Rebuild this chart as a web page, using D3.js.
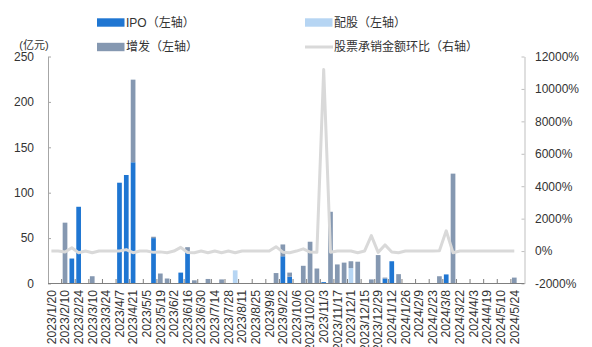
<!DOCTYPE html>
<html>
<head>
<meta charset="utf-8">
<script src="https://cdn.jsdelivr.net/npm/d3@7"></script>
<style>
  body { margin: 0; background: #fff; }
  text { font-family: "Liberation Sans", Arial, "Noto Sans CJK SC", sans-serif; fill: #333; }
</style>
</head>
<body>
<svg id="chart" width="592" height="347"></svg>
<script>
// Weekly equity underwriting, 2023/1/20 - 2024/5/31
const weeks = [
  "2023/1/20","2023/2/3","2023/2/10","2023/2/17","2023/2/24","2023/3/3","2023/3/10","2023/3/17","2023/3/24","2023/3/31",
  "2023/4/7","2023/4/14","2023/4/21","2023/4/28","2023/5/5","2023/5/12","2023/5/19","2023/5/26","2023/6/2","2023/6/9",
  "2023/6/16","2023/6/21","2023/6/30","2023/7/7","2023/7/14","2023/7/21","2023/7/28","2023/8/4","2023/8/11","2023/8/18",
  "2023/8/25","2023/9/1","2023/9/8","2023/9/15","2023/9/22","2023/9/28","2023/10/6","2023/10/13","2023/10/20","2023/10/27",
  "2023/11/3","2023/11/10","2023/11/17","2023/11/24","2023/12/1","2023/12/8","2023/12/15","2023/12/22","2023/12/29","2024/1/5",
  "2024/1/12","2024/1/19","2024/1/26","2024/2/2","2024/2/9","2024/2/16","2024/2/23","2024/3/1","2024/3/8","2024/3/15",
  "2024/3/22","2024/3/29","2024/4/3","2024/4/12","2024/4/19","2024/4/30","2024/5/10","2024/5/17","2024/5/24","2024/5/31"
];

// IPO (亿元)
const ipo = [
  0, 0, 0, 27.5, 84.5, 0, 0, 0, 0, 0,
  111, 119.5, 133.5, 0, 0, 50, 0, 0, 0, 12,
  35, 0, 0, 0, 0, 0, 0, 0, 0, 0,
  0, 0, 0, 0, 30, 7.5, 0, 0, 0, 0,
  1.5, 0, 0, 0, 0, 0, 0, 0, 0, 5.5,
  24.5, 0, 0, 0, 0, 0, 0, 0, 10, 0,
  0, 0, 0, 0, 0, 0, 0, 0, 0, 0
];

// 配股 (亿元)
const rightsIssue = [
  0, 0, 0, 0, 0, 0, 0, 0, 0, 0,
  0, 0, 0, 0, 0, 0, 0, 0, 0, 0,
  0, 0, 0, 0, 0, 0, 0, 14.5, 0, 0,
  0, 0, 0, 0, 0, 0, 0, 0, 0, 0,
  0, 0, 0, 0, 17, 0, 0, 0, 0, 0,
  0, 0, 0, 0, 0, 0, 0, 0, 0, 0,
  0, 0, 0, 0, 0, 0, 0, 0, 0, 0
];

// 增发 (亿元)
const placement = [
  0, 0, 67, 0, 0, 0, 8, 0, 0, 0,
  0, 0, 91, 0, 0, 1.5, 11, 5.5, 0, 0,
  5, 3.5, 0, 5, 0, 4.5, 0, 0, 0, 0,
  0, 0, 0, 11.5, 13, 4.5, 0, 19.5, 46, 16.5,
  0, 79, 21, 23, 7.5, 24, 0, 4.5, 31.3, 1,
  0, 10.3, 0, 0, 0, 0, 0, 8, 0, 121,
  0, 0, 0, 0, 0, 0, 0, 0, 6.5, 0
];

// 股票承销金额环比 (%)
const momChange = [
  0, 0, -60, 200, -100, 0, -100, 0, 0, 0,
  10, 90, -100, 0, 0, -80, -50, -100, 0, 230,
  -90, -100, 0, -100, 0, -100, 0, -100, 0, 0,
  0, 0, 0, 270, -70, -100, 0, 140, -60, -80,
  11200, -70, 10, 5, 0, -100, 0, 950, -80, 380,
  -60, -100, 0, 0, 0, 0, 0, 25, 1250, -100,
  0, 0, 0, 0, 0, 0, 0, 0, 0, null
];

const leftTicks = [0, 50, 100, 150, 200, 250];
const rightTicks = [-2000, 0, 2000, 4000, 6000, 8000, 10000, 12000];

const seriesNames = { ipo: "IPO（左轴）", rightsIssue: "配股（左轴）", placement: "增发（左轴）", mom: "股票承销金额环比（右轴）" };
const colors = { ipo: "#1f76d2", rightsIssue: "#b6d5f3", placement: "#8598b1", mom: "#d9d9d9" };

const svg = d3.select("#chart");
const X0 = 48, X1 = 524.5, Y0 = 283.5, Y1 = 56.5;

const x = d3.scaleBand().domain(weeks).range([X0, X1]).padding(0);
const step = x.step();
const barW = step * 0.69;
const yL = d3.scaleLinear().domain([0, 250]).range([Y0, Y1]);
const yR = d3.scaleLinear().domain([-2000, 12000]).range([Y0, Y1]);

// stacked bars: IPO at the bottom, then 配股, then 增发
const rows = weeks.map((w, i) => ({ week: w, ipo: ipo[i], rightsIssue: rightsIssue[i], placement: placement[i] }));
const stack = d3.stack().keys(["ipo", "rightsIssue", "placement"])(rows);

svg.append("g").selectAll("g").data(stack).join("g")
  .attr("fill", s => colors[s.key])
  .selectAll("rect").data(s => s.filter(d => d[1] - d[0] > 0)).join("rect")
  .attr("x", d => x(d.data.week) + (step - barW) / 2)
  .attr("width", barW)
  .attr("y", d => yL(d[1]))
  .attr("height", d => yL(d[0]) - yL(d[1]));

// left axis
svg.append("g")
  .attr("transform", `translate(${X0},0)`)
  .call(d3.axisLeft(yL).tickValues(leftTicks).tickSizeInner(-3).tickSizeOuter(0).tickPadding(14))
  .call(g => g.selectAll("path, line").attr("stroke", "#a6a6a6"))
  .call(g => g.selectAll("text").attr("font-size", 12).attr("fill", "#333"));

// right axis
svg.append("g")
  .attr("transform", `translate(${X1},0)`)
  .call(d3.axisRight(yR).tickValues(rightTicks).tickFormat(d => d + "%").tickSizeInner(-3).tickSizeOuter(0).tickPadding(10.5))
  .call(g => g.selectAll("path, line").attr("stroke", "#bfbfbf"))
  .call(g => g.selectAll("text").attr("font-size", 12).attr("fill", "#333"));

// category axis: baseline, a tick every two weeks, a label every two weeks
const xAxis = svg.append("g");
xAxis.append("line").attr("x1", X0).attr("x2", X1).attr("y1", Y0).attr("y2", Y0).attr("stroke", "#7f7f7f");
const tickWeeks = weeks.filter((w, i) => i % 2 === 0 && i > 0);
xAxis.selectAll(".tk").data(tickWeeks).join("line").attr("class", "tk")
  .attr("x1", d => x(d)).attr("x2", d => x(d))
  .attr("y1", Y0).attr("y2", Y0 - 4.5).attr("stroke", "#7f7f7f");
const labelWeeks = weeks.filter((w, i) => i % 2 === 0);
xAxis.selectAll(".lb").data(labelWeeks).join("text").attr("class", "lb")
  .attr("transform", d => `translate(${x(d) + step / 2},${Y0 + 6.5}) rotate(-90)`)
  .attr("text-anchor", "end").attr("dy", "0.35em")
  .attr("font-size", 12.2)
  .text(d => d);

// month-on-month line on the right axis
const line = d3.line()
  .defined(d => d != null)
  .x((d, i) => x(weeks[i]) + step / 2)
  .y(d => yR(d));
svg.append("path").datum(momChange)
  .attr("fill", "none").attr("stroke", colors.mom).attr("stroke-width", 3)
  .attr("stroke-linejoin", "round")
  .attr("d", line);

// unit label
svg.append("text").attr("x", 34).attr("y", 45.5).attr("text-anchor", "middle")
  .attr("dy", "0.35em").attr("font-size", 11).text("(亿元)");

// legend
const legend = svg.append("g");
const items = [
  { key: "ipo", x: 97, y: 22.5, type: "rect" },
  { key: "rightsIssue", x: 305, y: 22.5, type: "rect" },
  { key: "placement", x: 97, y: 47, type: "rect" },
  { key: "mom", x: 305, y: 47, type: "line" }
];
items.forEach(it => {
  if (it.type === "rect") {
    legend.append("rect").attr("x", it.x).attr("y", it.y - 4.2).attr("width", 27.5).attr("height", 8.4).attr("fill", colors[it.key]);
  } else {
    legend.append("line").attr("x1", it.x).attr("x2", it.x + 28).attr("y1", it.y).attr("y2", it.y)
      .attr("stroke", colors[it.key]).attr("stroke-width", 3);
  }
  legend.append("text").attr("x", it.x + 29).attr("y", it.y).attr("dy", "0.35em")
    .attr("font-size", 12).text(seriesNames[it.key]);
});
</script>
</body>
</html>
